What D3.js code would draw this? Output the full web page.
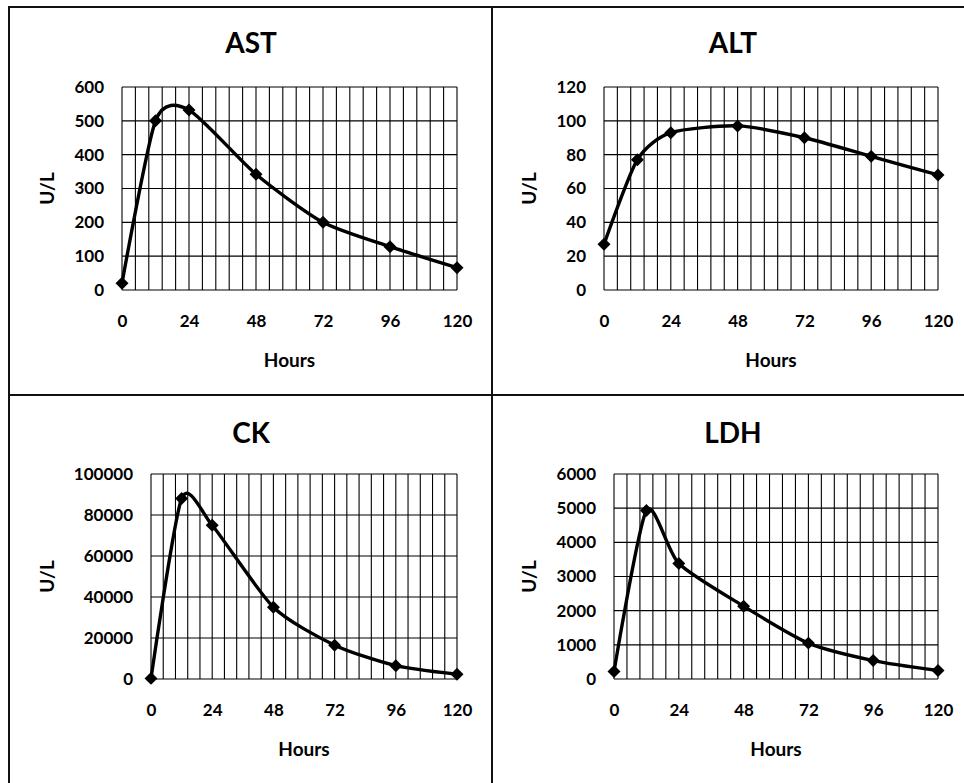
<!DOCTYPE html>
<html>
<head>
<meta charset="utf-8">
<script src="https://cdn.jsdelivr.net/npm/d3@7"></script>
<style>
  body { margin: 0; background: #fff; }
  svg { display: block; }
  text { font-family: Lato, "Open Sans", sans-serif; font-weight: bold; fill: #000; }
</style>
</head>
<body>
<svg id="chart" width="964" height="783"></svg>
<script>
// sampling times (hours)
var hours = [0, 12, 24, 48, 72, 96, 120];
var xTicks = [0, 24, 48, 72, 96, 120];

// enzyme values, U/L
var astValues = [20, 500, 532, 342, 200, 128, 66];
var altValues = [27, 77, 93, 97, 90, 79, 68];
var ckValues = [300, 88000, 75000, 35000, 16500, 6500, 2300];
var ldhValues = [220, 4930, 3380, 2130, 1050, 540, 250];

var astTicks = [0, 100, 200, 300, 400, 500, 600];
var altTicks = [0, 20, 40, 60, 80, 100, 120];
var ckTicks = [0, 20000, 40000, 60000, 80000, 100000];
var ldhTicks = [0, 1000, 2000, 3000, 4000, 5000, 6000];

var titles = ["AST", "ALT", "CK", "LDH"];

var svg = d3.select('#chart');

// panel layout: plot box and title/label positions
var panels = [
    {title: titles[0], values: astValues, ticks: astTicks, left: 122, right: 457, top: 87, bottom: 290, titleX: 251, titleY: 43, ylabX: 47},
    {title: titles[1], values: altValues, ticks: altTicks, left: 604, right: 938, top: 87, bottom: 290, titleX: 733, titleY: 43, ylabX: 529},
    {title: titles[2], values: ckValues, ticks: ckTicks, left: 151, right: 457, top: 474, bottom: 679, titleX: 251, titleY: 433, ylabX: 47},
    {title: titles[3], values: ldhValues, ticks: ldhTicks, left: 614, right: 938, top: 474, bottom: 679, titleX: 733, titleY: 433, ylabX: 529}
];

// table borders
var border = svg.append('g').attr('stroke', '#111').attr('stroke-width', 2);
border.append('line').attr('x1', 8).attr('x2', 964).attr('y1', 7).attr('y2', 7);
border.append('line').attr('x1', 9).attr('x2', 9).attr('y1', 6).attr('y2', 783);
border.append('line').attr('x1', 492).attr('x2', 492).attr('y1', 6).attr('y2', 783);
border.append('line').attr('x1', 9).attr('x2', 964).attr('y1', 395).attr('y2', 395);

// minor vertical gridlines every 4.8 h (major unit 24 / 5)
var minorX = d3.range(26).map(function(i) { return i * 4.8; });

panels.forEach(function(p) {
    var x = d3.scaleLinear().domain([0, 120]).range([p.left, p.right]);
    var y = d3.scaleLinear().domain([0, d3.max(p.ticks)]).range([p.bottom, p.top]);
    var g = svg.append('g');

    // gridlines
    g.append('g').selectAll('line')
        .data(minorX)
        .enter().append('line')
        .attr('x1', function(d) { return x(d); })
        .attr('x2', function(d) { return x(d); })
        .attr('y1', p.top)
        .attr('y2', p.bottom)
        .attr('stroke', '#000')
        .attr('stroke-width', 1.1);
    g.append('g').selectAll('line')
        .data(p.ticks)
        .enter().append('line')
        .attr('x1', p.left)
        .attr('x2', p.right)
        .attr('y1', function(d) { return y(d); })
        .attr('y2', function(d) { return y(d); })
        .attr('stroke', '#000')
        .attr('stroke-width', 1.1);

    // axes (labels only)
    var xAxis = d3.axisBottom(x).tickValues(xTicks).tickSize(0).tickPadding(25).tickFormat(d3.format('d'));
    var yAxis = d3.axisLeft(y).tickValues(p.ticks).tickSize(0).tickPadding(18).tickFormat(d3.format('d'));
    var gx = g.append('g').attr('transform', 'translate(0,' + p.bottom + ')').call(xAxis);
    var gy = g.append('g').attr('transform', 'translate(' + p.left + ',0)').call(yAxis);
    [gx, gy].forEach(function(a) {
        a.select('.domain').remove();
        a.selectAll('text').attr('font-family', 'Lato, sans-serif').attr('font-weight', 'bold').attr('font-size', 17).attr('fill', '#000');
    });

    // titles
    g.append('text')
        .attr('x', p.titleX)
        .attr('y', p.titleY)
        .attr('dy', '0.35em')
        .attr('text-anchor', 'middle')
        .attr('font-size', 28)
        .text(p.title);
    g.append('text')
        .attr('x', (p.left + p.right) / 2)
        .attr('y', p.bottom + 77)
        .attr('text-anchor', 'middle')
        .attr('font-size', 19)
        .text('Hours');
    g.append('text')
        .attr('transform', 'translate(' + p.ylabX + ',' + ((p.top + p.bottom) / 2) + ') rotate(-90)')
        .attr('dy', '0.35em')
        .attr('text-anchor', 'middle')
        .attr('font-size', 19)
        .text('U/L');

    // smoothed line, Excel style
    var pts = hours.map(function(h, i) { return [h, p.values[i]]; });
    var line = d3.line()
        .x(function(d) { return x(d[0]); })
        .y(function(d) { return y(d[1]); })
        .curve(d3.curveCardinal.tension(0.3));
    g.append('path')
        .datum(pts)
        .attr('fill', 'none')
        .attr('stroke', '#000')
        .attr('stroke-width', 3.4)
        .attr('d', line);

    g.append('g').selectAll('path')
        .data(pts)
        .enter().append('path')
        .attr('d', d3.symbol().type(d3.symbolSquare).size(84))
        .attr('transform', function(d) { return 'translate(' + x(d[0]) + ',' + y(d[1]) + ') rotate(45)'; })
        .attr('fill', '#000');
});
</script>
</body>
</html>
